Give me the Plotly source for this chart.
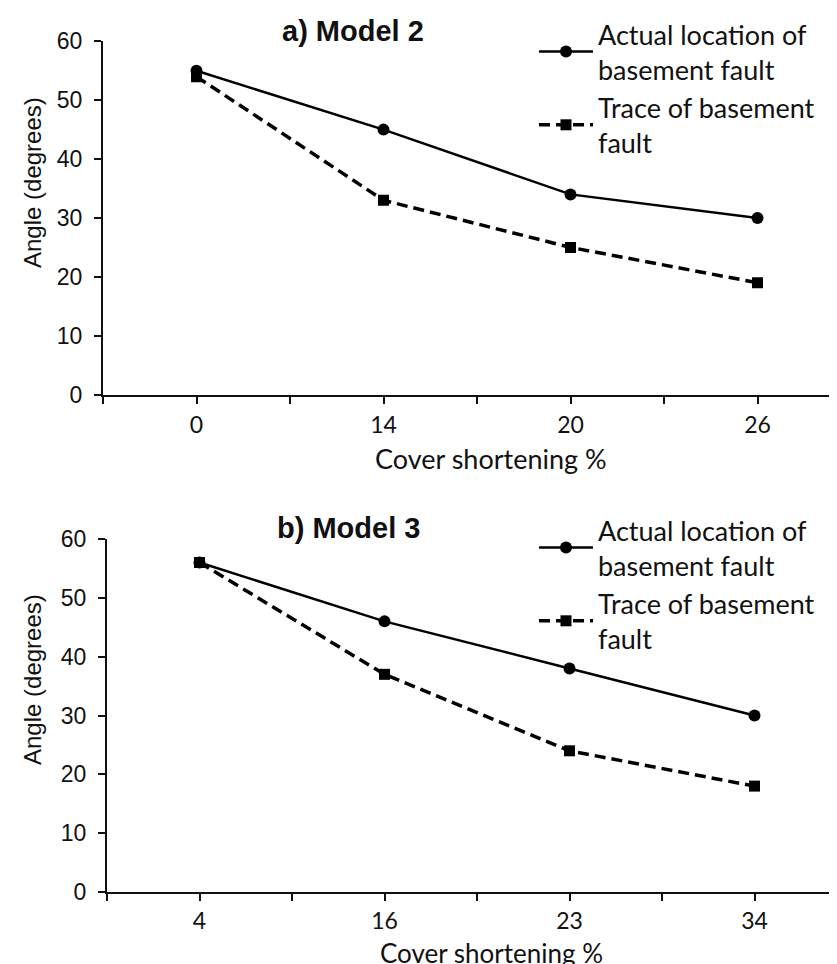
import plotly.graph_objects as go

# ---- data ----
cats_a = ["0", "14", "20", "26"]
actual_a = [55, 45, 34, 30]
trace_a = [54, 33, 25, 19]

cats_b = ["4", "16", "23", "34"]
actual_b = [56, 46, 38, 30]
trace_b = [56, 37, 24, 18]

yticks = [0, 10, 20, 30, 40, 50, 60]
name_actual = "Actual location of<br>basement fault"
name_trace = "Trace of basement<br>fault"

W, H = 837, 964
YTICKFONT = dict(family="Liberation Sans, Arial", size=23, color="#111")
XTICKFONT = dict(family="Lato, Open Sans", size=23, color="#111")
TEXTFONT = dict(family="Lato, Open Sans", size=27, color="#111")

def px(x):
    return x / W

def py(y):
    return 1 - y / H

fig = go.Figure()

def add_panel(cats, act, trc, xa, ya, leg):
    pos = list(range(len(cats)))
    fig.add_trace(go.Scatter(
        x=pos, y=act, name=name_actual, mode="lines+markers",
        line=dict(color="black", width=2.5),
        marker=dict(symbol="circle", size=12, color="black"),
        xaxis=xa, yaxis=ya, legend=leg))
    fig.add_trace(go.Scatter(
        x=pos, y=trc, name=name_trace, mode="lines+markers",
        line=dict(color="black", width=3.5, dash="11px,6px"),
        marker=dict(symbol="square", size=11, color="black"),
        xaxis=xa, yaxis=ya, legend=leg))

add_panel(cats_a, actual_a, trace_a, "x", "y", "legend")
add_panel(cats_b, actual_b, trace_b, "x2", "y2", "legend2")

def xaxis_cfg(cats, left_px, spacing, standoff):
    vals, texts = [], []
    for i, c in enumerate(cats):
        vals += [i - 0.5, i]
        texts += ["", c]
    return dict(
        domain=[px(left_px), 1],
        range=[-0.5, -0.5 + (W - left_px) / spacing],
        tickmode="array", tickvals=vals, ticktext=texts,
        ticks="outside", ticklen=7, tickwidth=2, tickcolor="#111",
        showline=True, linewidth=2, linecolor="#111",
        showgrid=False, zeroline=False, tickfont=XTICKFONT,
        ticklabelstandoff=standoff,
    )

def yaxis_cfg(top_px, bot_px, anchor):
    return dict(
        domain=[py(bot_px), py(top_px)], range=[0, 60],
        tickmode="array", tickvals=yticks,
        ticks="outside", ticklen=7, tickwidth=2, tickcolor="#111",
        showline=True, linewidth=2, linecolor="#111",
        showgrid=False, zeroline=False, tickfont=YTICKFONT,
        ticklabelstandoff=7, anchor=anchor,
    )

fig.update_layout(
    width=W, height=H,
    margin=dict(l=0, r=0, t=0, b=0, autoexpand=False),
    plot_bgcolor="white", paper_bgcolor="white",
    xaxis=dict(xaxis_cfg(cats_a, 95, 187, 2), anchor="y"),
    yaxis=yaxis_cfg(33.3, 386.6, "x"),
    xaxis2=dict(xaxis_cfg(cats_b, 99, 185, 0), anchor="y2"),
    yaxis2=yaxis_cfg(531, 884, "x2"),
    legend=dict(x=px(526), y=py(2), xanchor="left", yanchor="top",
                font=TEXTFONT, itemwidth=54, bgcolor="rgba(0,0,0,0)",
                tracegroupgap=0),
    legend2=dict(x=px(526), y=py(498), xanchor="left", yanchor="top",
                 font=TEXTFONT, itemwidth=54, bgcolor="rgba(0,0,0,0)",
                 tracegroupgap=0),
    showlegend=True,
)

ann = [
    dict(text="<b>a) Model 2</b>", x=px(345), y=py(23)),
    dict(text="<b>b) Model 3</b>", x=px(340), y=py(520)),
]
for a in ann:
    fig.add_annotation(text=a["text"], x=a["x"], y=a["y"], xref="paper", yref="paper",
                       xanchor="center", yanchor="middle", showarrow=False,
                       font=dict(family="Liberation Sans, Arial", size=29, color="#111"))

for yc in [175, 672]:
    fig.add_annotation(text="Angle (degrees)", x=px(24), y=py(yc), xref="paper", yref="paper",
                       xanchor="center", yanchor="middle", showarrow=False, textangle=-90,
                       font=dict(family="Liberation Sans, Arial", size=24, color="#111"))

fig.add_annotation(text="Cover shortening %", x=px(483), y=py(450), xref="paper", yref="paper",
                   xanchor="center", yanchor="middle", showarrow=False, font=TEXTFONT)
fig.add_annotation(text="Cover shortening %", x=px(483), y=py(945), xref="paper", yref="paper",
                   xanchor="center", yanchor="middle", showarrow=False,
                   font=dict(TEXTFONT, size=26))

fig.write_html("out.html")
